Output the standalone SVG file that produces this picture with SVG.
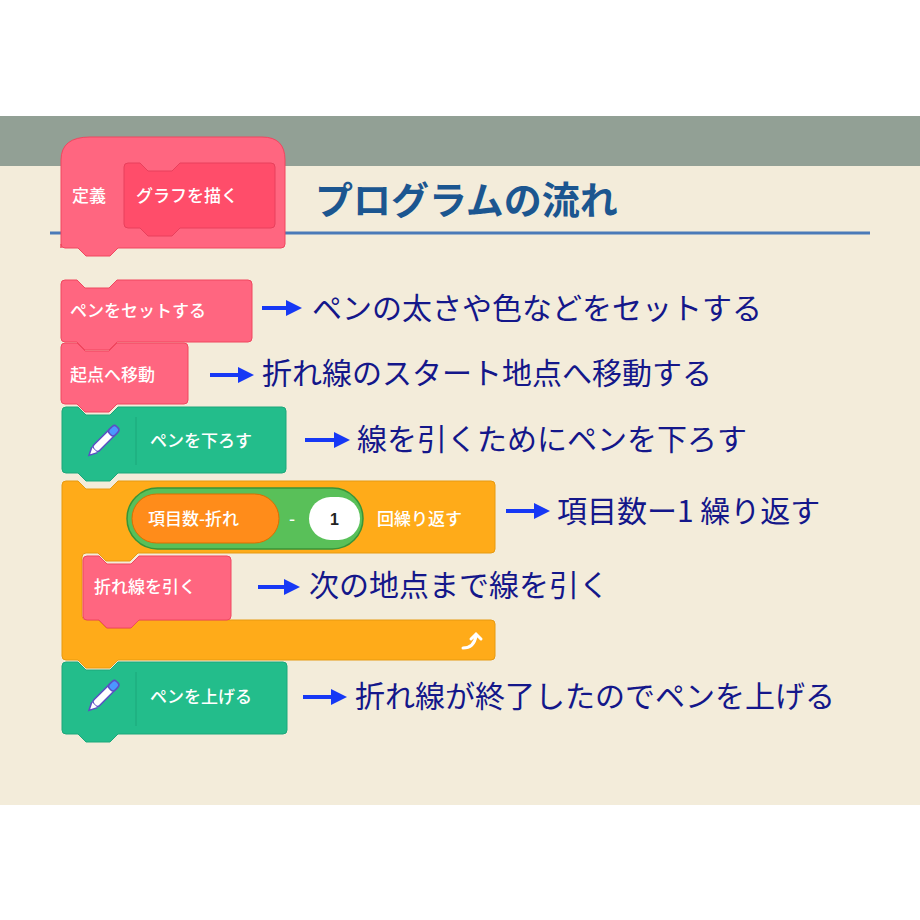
<svg xmlns="http://www.w3.org/2000/svg" width="920" height="920" viewBox="0 0 920 920">
<style>
.bt{font-family:"Noto Sans CJK JP","Noto Sans",sans-serif;font-size:17px;fill:#fff;font-weight:500}
.an{font-family:"Noto Sans CJK JP","Noto Sans",sans-serif;font-size:30px;fill:#14178a}
.pk{fill:#ff6680;stroke:#f0475f;stroke-width:1}
.gr{fill:#23bd8b;stroke:#1ca77a;stroke-width:1}
.ar{stroke:#1638f5;stroke-width:4}
</style>
<defs><marker id="ah" markerWidth="4" markerHeight="4" refX="2" refY="2" orient="auto"><path d="M0,0 L4,2 L0,4 Z" fill="#1638f5"/></marker>
<g id="pen"><g transform="rotate(45)"><rect x="-3" y="-20" width="8" height="30" rx="3" fill="#fff" stroke="#5a4fc4" stroke-width="1.5"/><rect x="-3" y="-22" width="8" height="10" rx="3" fill="#4c97ff" stroke="#5a4fc4" stroke-width="1.5"/><path d="M-3,10 L1,18 L5,10" fill="#fff" stroke="#5a4fc4" stroke-width="1.5"/></g></g></defs>
<rect width="920" height="920" fill="#fff"/>
<rect y="116" width="920" height="50" fill="#92a095"/>
<rect y="166" width="920" height="639" fill="#f3ecda"/>
<text x="315" y="214" font-family="Noto Sans CJK JP,sans-serif" font-size="38" font-weight="bold" fill="#1b5690">プログラムの流れ</text>
<line x1="50" y1="233" x2="870" y2="233" stroke="#4a7ab8" stroke-width="3"/>
<g id="define">
<path class="pk" d="M61,248 V160 Q61,137 90,137 H262 Q285,137 285,160 V244 Q285,248 281,248 H118 l-8,8 h-24 l-8,-8 H65 Q61,248 61,244 Z"/>
<path fill="#ff4d6a" stroke="#e8405c" d="M124,167 Q124,163 128,163 H140 l8,8 h24 l8,-8 H271 Q275,163 275,167 V224 Q275,228 271,228 H180 l-8,8 h-24 l-8,-8 H128 Q124,228 124,224 Z"/>
<text class="bt" x="72" y="202">定義</text><text class="bt" x="136" y="202">グラフを描く</text>
</g>
<g id="setpen"><path class="pk" d="M61,284 Q61,280 65,280 H77 l8,8 h24 l8,-8 H248 Q252,280 252,284 V338 Q252,342 248,342 H117 l-8,8 h-24 l-8,-8 H65 Q61,342 61,338 Z"/><text class="bt" x="70" y="317">ペンをセットする</text></g>
<g id="move"><path class="pk" d="M61,347 Q61,343 65,343 H77 l8,8 h24 l8,-8 H184 Q188,343 188,347 V400 Q188,404 184,404 H117 l-8,8 h-24 l-8,-8 H65 Q61,404 61,400 Z"/><text class="bt" x="70" y="381">起点へ移動</text></g>
<g id="pendown"><path class="gr" d="M62,411 Q62,407 66,407 H78 l8,8 h24 l8,-8 H282 Q286,407 286,411 V469 Q286,473 282,473 H118 l-8,8 h-24 l-8,-8 H66 Q62,473 62,469 Z"/><line x1="136" y1="417" x2="136" y2="465" stroke="#1ca77a"/><use href="#pen" x="101" y="442"/><text class="bt" x="150" y="447">ペンを下ろす</text></g>
<g id="repeat">
<path fill="#ffab19" stroke="#e79a10" d="M62,485 Q62,481 66,481 H78 l8,8 h24 l8,-8 H491 Q495,481 495,485 V549 Q495,553 491,553 H138 l-8,8 h-24 l-8,-8 H86 Q82,553 82,557 V616 Q82,620 86,620 H98 l8,8 h24 l8,-8 H491 Q495,620 495,624 V656 Q495,660 491,660 H118 l-8,8 h-24 l-8,-8 H66 Q62,660 62,656 Z"/>
<rect x="127" y="488" width="236" height="61" rx="30.5" fill="#59c059" stroke="#389438" stroke-width="1.5"/>
<rect x="132" y="494" width="147" height="49" rx="24.5" fill="#ff8c1a" stroke="#db6e00"/>
<text class="bt" x="148" y="525">項目数-折れ</text>
<text class="bt" x="289" y="525">-</text>
<rect x="309" y="497" width="51" height="43" rx="21.5" fill="#fff"/>
<text x="334.5" y="525" text-anchor="middle" font-family="Liberation Sans,sans-serif" font-weight="bold" font-size="16" fill="#222">1</text>
<text class="bt" x="377" y="525">回繰り返す</text>
<path d="M463,648 Q474,648 476,636 M471,639 L476,634 L481,639" fill="none" stroke="#fff" stroke-width="3" stroke-linecap="round"/>
</g>
<g id="drawline"><path class="pk" d="M83,560 Q83,556 87,556 H99 l8,8 h24 l8,-8 H227 Q231,556 231,560 V616 Q231,620 227,620 H139 l-8,8 h-24 l-8,-8 H87 Q83,620 83,616 Z"/><text class="bt" x="94" y="593">折れ線を引く</text></g>
<g id="penup"><path class="gr" d="M62,666 Q62,662 66,662 H78 l8,8 h24 l8,-8 H283 Q287,662 287,666 V730 Q287,734 283,734 H118 l-8,8 h-24 l-8,-8 H66 Q62,734 62,730 Z"/><line x1="136" y1="672" x2="136" y2="726" stroke="#1ca77a"/><use href="#pen" x="101" y="697"/><text class="bt" x="150" y="703">ペンを上げる</text></g>
<g id="connectors">
<line class="ar" x1="262" y1="308" x2="294" y2="308" marker-end="url(#ah)"/>
<line class="ar" x1="210" y1="375" x2="246" y2="375" marker-end="url(#ah)"/>
<line class="ar" x1="305" y1="440" x2="342" y2="440" marker-end="url(#ah)"/>
<line class="ar" x1="506" y1="511" x2="542" y2="511" marker-end="url(#ah)"/>
<line class="ar" x1="258" y1="587" x2="292" y2="587" marker-end="url(#ah)"/>
<line class="ar" x1="303" y1="697" x2="339" y2="697" marker-end="url(#ah)"/>
</g>
<text class="an" x="312" y="319">ペンの太さや色などをセットする</text>
<text class="an" x="262" y="384">折れ線のスタート地点へ移動する</text>
<text class="an" x="357" y="450">線を引くためにペンを下ろす</text>
<text class="an" x="557" y="522">項目数ー1 繰り返す</text>
<text class="an" x="309" y="596">次の地点まで線を引く</text>
<text class="an" x="355" y="707">折れ線が終了したのでペンを上げる</text>
</svg>
